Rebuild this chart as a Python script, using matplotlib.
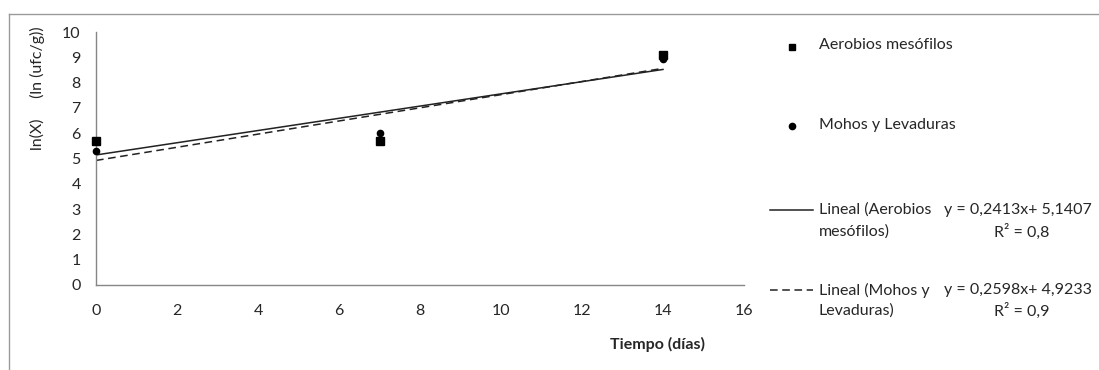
import numpy as np
import matplotlib
matplotlib.use("Agg")
import matplotlib.pyplot as plt
from matplotlib.lines import Line2D

plt.rcParams["font.family"] = ["Lato", "DejaVu Sans"]

# data
dias = [0, 7, 14]
aerobios = [5.70, 5.71, 9.08]
mohos = [5.30, 5.99, 8.94]
eq_aerobios = "y = 0,2413x+ 5,1407"
r2_aerobios = "R² = 0,8"
eq_mohos = "y = 0,2598x+ 4,9233"
r2_mohos = "R² = 0,9"

W, H = 1099, 370
FS = 11.5
TXT = "#262626"

fig = plt.figure(figsize=(W / 100, H / 100), dpi=100)
ax = fig.add_axes([96 / W, 1 - 285 / H, (744 - 96) / W, (285 - 32) / H])

# trend lines (least squares)
xs = np.array(dias, dtype=float)
for ys, ls in [(aerobios, "-"), (mohos, (0, (5, 3)))]:
    m, b = np.polyfit(xs, ys, 1)
    ax.plot([0, 14], [b, m * 14 + b], color="#222222", lw=1.1, ls=ls, zorder=2)

ax.plot(dias, aerobios, ls="none", marker="s", ms=6, color="black", zorder=3, clip_on=False)
ax.plot(dias, mohos, ls="none", marker="o", ms=4.5, color="black", zorder=4, clip_on=False)

ax.set_xlim(0, 16)
ax.set_ylim(0, 10)
ax.set_xticks(range(0, 17, 2))
ax.set_yticks(range(0, 11))
ax.tick_params(length=0, labelsize=FS, colors=TXT)
ax.tick_params(axis="y", pad=11)
ax.tick_params(axis="x", pad=14)
for s in ["top", "right"]:
    ax.spines[s].set_visible(False)
for s in ["left", "bottom"]:
    ax.spines[s].set_color("#868686")
    ax.spines[s].set_linewidth(1.0)

fig.text(37 / W, 1 - 88 / H, "ln(X)     (ln (ufc/g))", rotation=90,
         ha="center", va="center", fontsize=FS, color=TXT)
fig.text(657 / W, 1 - 344 / H, "Tiempo (días)", ha="center", va="center",
         fontsize=FS, fontweight="bold", color=TXT)

# outer frame
fig.add_artist(Line2D([9 / W, 9 / W], [0, 1 - 14 / H], color="#9a9a9a", lw=1.0))
fig.add_artist(Line2D([9 / W, 1], [1 - 14 / H, 1 - 14 / H], color="#9a9a9a", lw=1.0))


# legend, in pixel positions
def fx(p):
    return p / W


def fy(p):
    return 1 - p / H


def label(x, y, s, ha="left"):
    fig.text(fx(x), fy(y), s, ha=ha, va="center", fontsize=FS, color=TXT)


fig.add_artist(Line2D([fx(792)], [fy(47)], marker="s", ms=5, color="black", ls="none"))
label(819, 45, "Aerobios mesófilos")
fig.add_artist(Line2D([fx(792)], [fy(126)], marker="o", ms=4.5, color="black", ls="none"))
label(819, 125, "Mohos y Levaduras")

fig.add_artist(Line2D([fx(770), fx(813)], [fy(210), fy(210)], color="#222222", lw=1.1))
label(819, 210, "Lineal (Aerobios")
label(819, 232, "mesófilos)")
label(944, 210, eq_aerobios)
label(1022, 232, r2_aerobios, ha="center")

fig.add_artist(Line2D([fx(770), fx(813)], [fy(290), fy(290)], color="#222222", lw=1.1, ls=(0, (5, 3))))
label(819, 290, "Lineal (Mohos y")
label(819, 311, "Levaduras)")
label(944, 290, eq_mohos)
label(1022, 311, r2_mohos, ha="center")

fig.savefig("out.png", dpi=100)
